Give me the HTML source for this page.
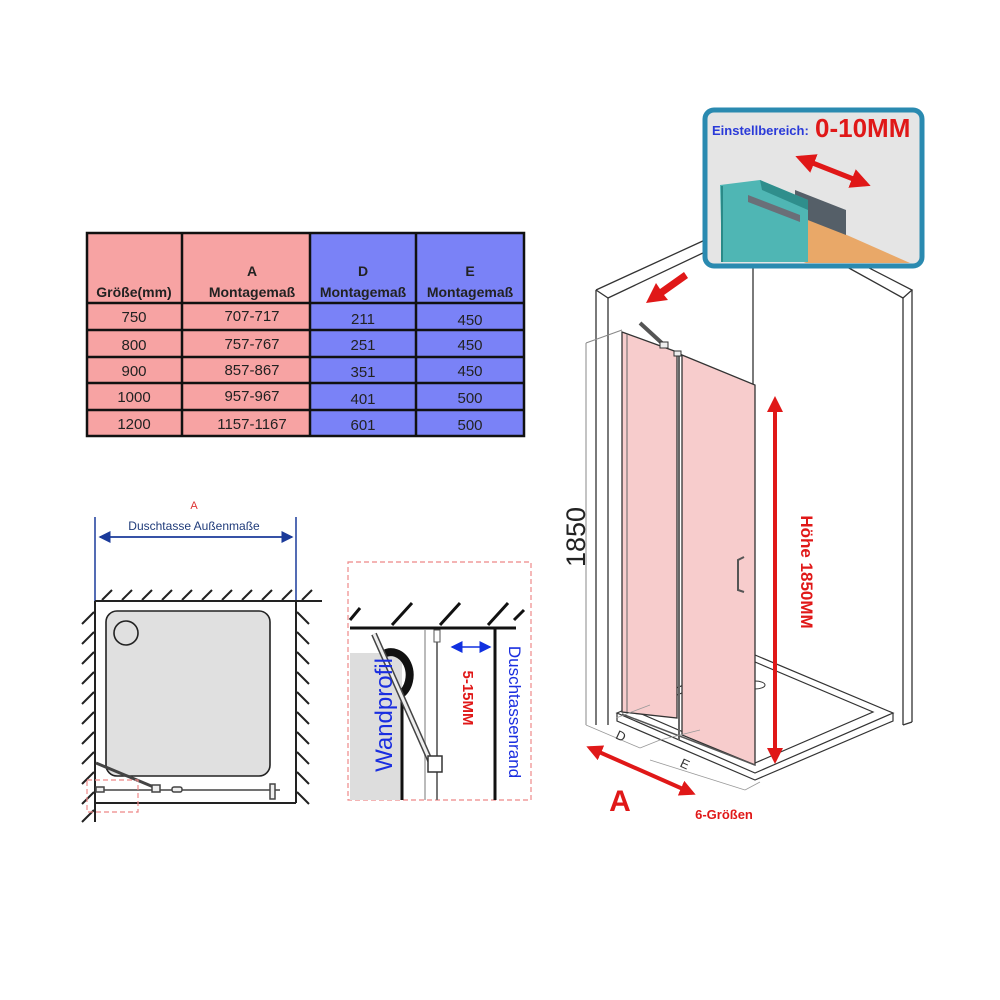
<!DOCTYPE html>
<html><head><meta charset="utf-8"><style>
html,body{margin:0;padding:0;background:#fff}
svg{display:block}
text{font-family:"Liberation Sans","DejaVu Sans",sans-serif}
</style></head><body>
<svg width="1000" height="1000" viewBox="0 0 1000 1000" xmlns="http://www.w3.org/2000/svg">
<defs>
<marker id="ab" markerWidth="8" markerHeight="8" refX="7" refY="4" orient="auto"><path d="M0,0 L8,4 L0,8 z" fill="#1a3a9a"/></marker>
<marker id="ar" markerWidth="4" markerHeight="4" refX="3" refY="2" orient="auto"><path d="M0,0 L4,2 L0,4 z" fill="#e01818"/></marker>
<marker id="arr" markerWidth="4" markerHeight="4" refX="1" refY="2" orient="auto"><path d="M4,0 L0,2 L4,4 z" fill="#e01818"/></marker>
<marker id="ar2" markerWidth="8" markerHeight="8" refX="7" refY="4" orient="auto"><path d="M0,0 L8,4 L0,8 z" fill="#1030e0"/></marker>
<marker id="ar2s" markerWidth="8" markerHeight="8" refX="1" refY="4" orient="auto"><path d="M8,0 L0,4 L8,8 z" fill="#1030e0"/></marker>
</defs>

<!-- TABLE -->
<rect x="87" y="233" width="223" height="203" fill="#f7a3a3"/>
<rect x="310" y="233" width="214" height="203" fill="#7a82f7"/>
<g stroke="#111" stroke-width="2.5" fill="none">
<rect x="87" y="233" width="437" height="203"/>
<line x1="182" y1="233" x2="182" y2="436"/><line x1="310" y1="233" x2="310" y2="436"/><line x1="416" y1="233" x2="416" y2="436"/>
<line x1="87" y1="303" x2="524" y2="303"/><line x1="87" y1="330" x2="524" y2="330"/><line x1="87" y1="357" x2="524" y2="357"/><line x1="87" y1="383" x2="524" y2="383"/><line x1="87" y1="410" x2="524" y2="410"/>
</g>
<g font-weight="bold" font-size="14" fill="#222" text-anchor="middle">
<text x="134" y="297">Größe(mm)</text>
<text x="252" y="276">A</text><text x="252" y="297">Montagemaß</text>
<text x="363" y="276">D</text><text x="363" y="297">Montagemaß</text>
<text x="470" y="276">E</text><text x="470" y="297">Montagemaß</text>
</g>
<g font-size="15" fill="#222" text-anchor="middle">
<text x="134" y="322">750</text><text x="252" y="321">707-717</text><text x="363" y="324">211</text><text x="470" y="325">450</text>
<text x="134" y="350">800</text><text x="252" y="349">757-767</text><text x="363" y="350">251</text><text x="470" y="350">450</text>
<text x="134" y="376">900</text><text x="252" y="375">857-867</text><text x="363" y="377">351</text><text x="470" y="376">450</text>
<text x="134" y="402">1000</text><text x="252" y="401">957-967</text><text x="363" y="404">401</text><text x="470" y="403">500</text>
<text x="134" y="429">1200</text><text x="252" y="429">1157-1167</text><text x="363" y="430">601</text><text x="470" y="430">500</text>
</g>

<!-- LEFT PLAN -->
<text x="194" y="509" font-size="11" fill="#d33" text-anchor="middle">A</text>
<text x="194" y="530" font-size="12" fill="#1f3b7a" text-anchor="middle">Duschtasse Außenmaße</text>
<line x1="95" y1="517" x2="95" y2="602" stroke="#1a3a9a" stroke-width="1.5"/>
<line x1="296" y1="517" x2="296" y2="602" stroke="#1a3a9a" stroke-width="1.5"/>
<line x1="100" y1="537" x2="292" y2="537" stroke="#1a3a9a" stroke-width="1.5" marker-end="url(#ab)"/>
<line x1="292" y1="537" x2="100" y2="537" stroke="#1a3a9a" stroke-width="1.5" marker-end="url(#ab)"/>
<g stroke="#222" stroke-width="2" fill="none">
<line x1="95" y1="601" x2="322" y2="601"/>
<line x1="95" y1="601" x2="95" y2="822"/>
<line x1="296" y1="601" x2="296" y2="803"/>
<line x1="95" y1="803" x2="296" y2="803"/>
<path d="M102,600 l10,-10 M122,600 l10,-10 M142,600 l10,-10 M162,600 l10,-10 M182,600 l10,-10 M202,600 l10,-10 M222,600 l10,-10 M242,600 l10,-10 M262,600 l10,-10 M282,600 l10,-10 M302,600 l10,-10"/>
<path d="M94,612 l-12,12 M94,632 l-12,12 M94,652 l-12,12 M94,672 l-12,12 M94,692 l-12,12 M94,712 l-12,12 M94,732 l-12,12 M94,752 l-12,12 M94,772 l-12,12 M94,792 l-12,12 M94,810 l-12,12"/>
<path d="M297,612 l12,12 M297,632 l12,12 M297,652 l12,12 M297,672 l12,12 M297,692 l12,12 M297,712 l12,12 M297,732 l12,12 M297,752 l12,12 M297,772 l12,12 M297,792 l12,12"/>
</g>
<rect x="106" y="611" width="164" height="165" rx="11" fill="#e0e0e0" stroke="#222" stroke-width="1.6"/>
<circle cx="126" cy="633" r="12" fill="#e0e0e0" stroke="#222" stroke-width="1.6"/>
<g stroke="#444" stroke-width="1.5" fill="#eee">
<line x1="97" y1="790" x2="280" y2="790"/>
<line x1="96" y1="763" x2="156" y2="788" stroke-width="3"/>
<rect x="96" y="787" width="8" height="5"/><rect x="152" y="785" width="8" height="7"/><rect x="172" y="787" width="10" height="5" rx="2"/><rect x="270" y="784" width="5" height="15"/>
</g>
<rect x="87" y="780" width="51" height="32" fill="none" stroke="#e88" stroke-width="1.2" stroke-dasharray="5,3"/>

<!-- MIDDLE DETAIL -->
<rect x="348" y="562" width="183" height="238" fill="none" stroke="#e88" stroke-width="1.2" stroke-dasharray="5,3"/>
<rect x="350" y="653" width="52" height="147" fill="#ddd"/>
<path d="M382,655 a18,22 0 0 1 18,40" fill="none" stroke="#111" stroke-width="8"/>
<g stroke="#111" stroke-width="3" fill="none">
<line x1="350" y1="628" x2="516" y2="628"/>
<path d="M350,620 l10,-12 M392,625 l20,-22 M440,625 l20,-22 M488,625 l20,-22 M514,620 l10,-10"/>
<line x1="495" y1="628" x2="495" y2="800"/>
<line x1="402" y1="690" x2="402" y2="800"/>
</g>
<line x1="425" y1="630" x2="425" y2="800" stroke="#bbb" stroke-width="2"/>
<line x1="437" y1="630" x2="437" y2="800" stroke="#777" stroke-width="2"/>
<rect x="434" y="630" width="6" height="12" fill="#fff" stroke="#555"/>
<line x1="374" y1="634" x2="432" y2="765" stroke="#444" stroke-width="6"/>
<line x1="374" y1="634" x2="432" y2="765" stroke="#eee" stroke-width="3"/>
<rect x="428" y="756" width="14" height="16" fill="#fff" stroke="#333" stroke-width="1.5"/>
<text transform="translate(392,715) rotate(-90)" font-size="24" fill="#1a2ee0" text-anchor="middle">Wandprofil</text>
<line x1="452" y1="647" x2="490" y2="647" stroke="#1030e0" stroke-width="1.5" marker-end="url(#ar2)" marker-start="url(#ar2s)"/>
<text transform="translate(463,698) rotate(90)" font-size="15" font-weight="bold" fill="#e01818" text-anchor="middle">5-15MM</text>
<text transform="translate(509,712) rotate(90)" font-size="17" fill="#1a2ee0" text-anchor="middle">Duschtassenrand</text>

<!-- 3D ROOM -->
<g stroke="#333" stroke-width="1.3" fill="none">
<path d="M596,290 L705,240 M608,298 L705,252"/>
<line x1="596" y1="290" x2="596" y2="725"/><line x1="608" y1="298" x2="608" y2="725"/><line x1="596" y1="290" x2="608" y2="298"/>
<path d="M838,252 L912,290 L903,298 M838,262 L903,298"/>
<line x1="912" y1="290" x2="912" y2="722"/><line x1="903" y1="298" x2="903" y2="725"/><line x1="903" y1="725" x2="912" y2="722"/>
<line x1="753" y1="265" x2="753" y2="657"/>
</g>
<line x1="586" y1="343" x2="586" y2="725" stroke="#888" stroke-width="1"/>
<line x1="586" y1="343" x2="622" y2="330" stroke="#888" stroke-width="1"/>
<!-- tray -->
<g stroke="#333" stroke-width="1.2" fill="#fff">
<path d="M617,713 L755,655 L893,713 L755,773 Z"/>
<path d="M617,713 L617,721 L755,780 L893,721 L893,713" fill="none"/>
<path d="M637,712 L755,662 L873,712 L755,763 Z" fill="none"/>
</g>
<ellipse cx="755" cy="685" rx="10" ry="4" fill="#fff" stroke="#333"/>
<!-- glass -->
<path d="M622,332 L677,352 L677,718 L622,712 Z" fill="#f7cccc" stroke="#333" stroke-width="1.3"/>
<path d="M682,355 L755,385 L755,765 L682,735 Z" fill="#f7cccc" stroke="#333" stroke-width="1.3"/>
<line x1="627" y1="334" x2="627" y2="712" stroke="#666"/>
<line x1="679" y1="352" x2="679" y2="740" stroke="#666" stroke-width="2"/>
<path d="M677,352 L682,355" stroke="#333"/>
<path d="M622,714 L755,765" stroke="#555" stroke-width="1.5"/>
<path d="M640,323 L664,345" stroke="#555" stroke-width="4"/>
<rect x="660" y="342" width="8" height="6" fill="#eee" stroke="#333"/>
<rect x="674" y="351" width="7" height="5" fill="#eee" stroke="#333"/>
<path d="M744,557 L738,560 L738,590 L744,592" fill="none" stroke="#555" stroke-width="2"/>
<!-- D E dims -->
<g stroke="#999" stroke-width="0.8" fill="none">
<path d="M586,725 L640,748 M616,718 L650,705 M640,748 L660,740 M650,760 L745,790 M660,740 L700,730 M745,790 L760,782"/>
</g>
<text transform="translate(619,740) rotate(25)" font-size="13" fill="#333" text-anchor="middle">D</text>
<text transform="translate(683,768) rotate(25)" font-size="13" fill="#333" text-anchor="middle">E</text>
<!-- A arrow -->
<line x1="590" y1="748" x2="692" y2="793" stroke="#e01818" stroke-width="4" marker-end="url(#ar)" marker-start="url(#arr)"/>
<text x="620" y="811" font-size="30" font-weight="bold" fill="#e01818" text-anchor="middle">A</text>
<text x="724" y="819" font-size="13" font-weight="bold" fill="#e01818" text-anchor="middle">6-Größen</text>
<!-- height arrow -->
<line x1="775" y1="400" x2="775" y2="760" stroke="#e01818" stroke-width="4" marker-end="url(#ar)" marker-start="url(#arr)"/>
<text transform="translate(801,572) rotate(90)" font-size="17" font-weight="bold" fill="#e01818" text-anchor="middle">Höhe 1850MM</text>
<text transform="translate(585,537) rotate(-90)" font-size="27" fill="#222" text-anchor="middle">1850</text>
<!-- red arrow top -->
<path d="M684,272 L660,289 L656,283 L646,303 L668,300 L664,295 L688,278 Z" fill="#e01818"/>

<!-- INSET -->
<rect x="705" y="110" width="217" height="156" rx="9" fill="#e5e5e5" stroke="#2a8ab0" stroke-width="5"/>
<text x="712" y="135" font-size="13" font-weight="bold" fill="#2a3ad8">Einstellbereich:</text>
<text x="815" y="137" font-size="26" font-weight="bold" fill="#e01818">0-10MM</text>
<path d="M800,158 L866,184" stroke="#e01818" stroke-width="5" marker-end="url(#ar)" marker-start="url(#arr)"/>
<path d="M745,190 L910,263 L806,263 L745,236 Z" fill="#e9a868"/>
<path d="M795,190 L846,210 L846,235 L795,215 Z" fill="#555f68"/>
<path d="M720,185 L760,180 L808,200 L808,262 L722,262 Z" fill="#4fb6b4"/>
<path d="M760,180 L808,200 L808,210 L762,190 Z" fill="#2f8e8c"/>
<path d="M748,195 L800,215 L800,222 L748,202 Z" fill="#6a6f78"/>
<line x1="722" y1="186" x2="722" y2="262" stroke="#2a8a88" stroke-width="2"/>
</svg>
</body></html>
